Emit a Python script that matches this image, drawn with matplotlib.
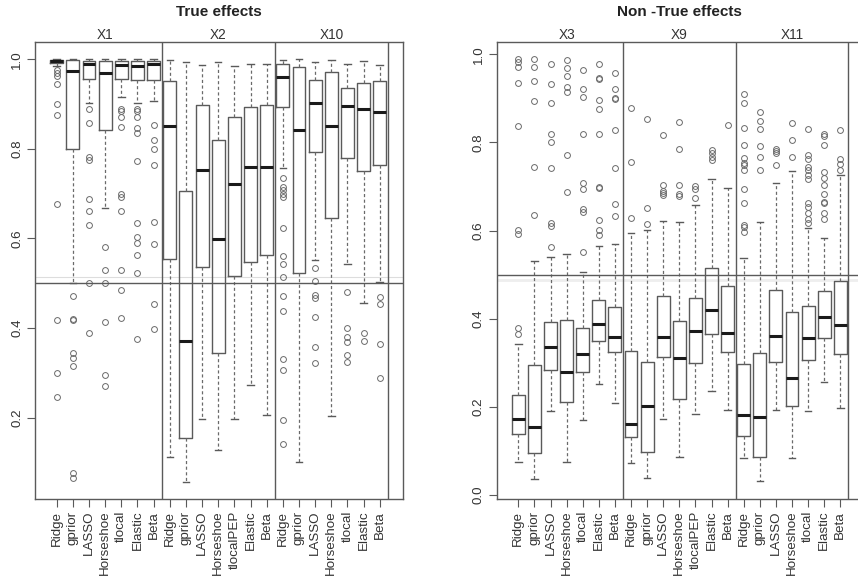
import matplotlib
matplotlib.use("Agg")
import matplotlib.pyplot as plt
import matplotlib.transforms as mtransforms

plt.rcParams['font.family'] = ['Liberation Sans', 'DejaVu Sans']

# ---------------- data: (whisker low, q1, median, q3, whisker high) ----------------
methods_a = ["Ridge", "gprior", "LASSO", "Horseshoe", "tlocal", "Elastic", "Beta"]
methods_b = ["Ridge", "gprior", "LASSO", "Horseshoe", "tlocalPEP", "Elastic", "Beta"]

# True effects
x1_stats = [(0.984, 0.992, 0.997, 0.999, 1.0),
            (0.500, 0.800, 0.974, 0.999, 1.0),
            (0.903, 0.955, 0.990, 0.997, 1.0),
            (0.667, 0.842, 0.970, 0.997, 1.0),
            (0.915, 0.955, 0.987, 0.997, 1.0),
            (0.903, 0.954, 0.984, 0.997, 1.0),
            (0.907, 0.954, 0.989, 0.997, 1.0)]
x1_out = [[0.976, 0.969, 0.962, 0.946, 0.90, 0.876, 0.677, 0.418, 0.30, 0.247],
          [0.472, 0.420, 0.418, 0.344, 0.333, 0.315, 0.077, 0.066],
          [0.89, 0.857, 0.783, 0.775, 0.688, 0.662, 0.629, 0.50, 0.39],
          [0.58, 0.53, 0.50, 0.413, 0.295, 0.27],
          [0.89, 0.885, 0.872, 0.85, 0.70, 0.693, 0.662, 0.53, 0.484, 0.423],
          [0.89, 0.885, 0.872, 0.846, 0.835, 0.772, 0.635, 0.604, 0.591, 0.562, 0.522, 0.375],
          [0.853, 0.82, 0.80, 0.764, 0.636, 0.587, 0.454, 0.397]]

x2_stats = [(0.113, 0.554, 0.851, 0.951, 0.999),
            (0.057, 0.155, 0.371, 0.705, 0.995),
            (0.196, 0.536, 0.753, 0.897, 0.987),
            (0.128, 0.344, 0.599, 0.820, 0.993),
            (0.197, 0.517, 0.722, 0.872, 0.985),
            (0.273, 0.548, 0.760, 0.894, 0.990),
            (0.205, 0.562, 0.759, 0.897, 0.990)]
x2_out = [[], [], [], [], [], [], []]

x10_stats = [(0.758, 0.894, 0.960, 0.990, 0.999),
             (0.102, 0.522, 0.842, 0.982, 1.0),
             (0.552, 0.792, 0.903, 0.954, 0.993),
             (0.204, 0.645, 0.851, 0.972, 0.999),
             (0.542, 0.779, 0.896, 0.937, 0.990),
             (0.457, 0.751, 0.888, 0.948, 0.997),
             (0.502, 0.763, 0.883, 0.951, 0.987)]
x10_out = [[0.734, 0.716, 0.708, 0.70, 0.693, 0.624, 0.561, 0.543, 0.515, 0.472, 0.439, 0.33, 0.306, 0.195, 0.141],
           [],
           [0.533, 0.505, 0.474, 0.466, 0.425, 0.358, 0.321],
           [],
           [0.48, 0.40, 0.379, 0.368, 0.34, 0.325],
           [0.39, 0.37],
           [0.47, 0.454, 0.364, 0.288]]

# Non-true effects
x3_stats = [(0.076, 0.138, 0.172, 0.228, 0.342),
            (0.036, 0.096, 0.155, 0.295, 0.531),
            (0.191, 0.283, 0.336, 0.392, 0.539),
            (0.076, 0.212, 0.278, 0.397, 0.546),
            (0.170, 0.278, 0.319, 0.379, 0.505),
            (0.253, 0.349, 0.389, 0.442, 0.565),
            (0.208, 0.324, 0.359, 0.427, 0.569)]
x3_out = [[0.988, 0.983, 0.971, 0.935, 0.837, 0.601, 0.593, 0.379, 0.365],
          [0.99, 0.97, 0.94, 0.893, 0.745, 0.636],
          [0.977, 0.933, 0.89, 0.82, 0.801, 0.742, 0.618, 0.61, 0.562],
          [0.986, 0.969, 0.95, 0.926, 0.915, 0.772, 0.688],
          [0.964, 0.92, 0.902, 0.82, 0.708, 0.695, 0.648, 0.642, 0.552],
          [0.977, 0.946, 0.943, 0.896, 0.875, 0.82, 0.699, 0.697, 0.624, 0.602, 0.59],
          [0.958, 0.922, 0.90, 0.898, 0.829, 0.742, 0.66, 0.633]]

x9_stats = [(0.072, 0.131, 0.160, 0.327, 0.595),
            (0.038, 0.098, 0.203, 0.301, 0.602),
            (0.172, 0.314, 0.359, 0.452, 0.621),
            (0.087, 0.218, 0.310, 0.395, 0.620),
            (0.184, 0.299, 0.372, 0.448, 0.659),
            (0.237, 0.365, 0.419, 0.514, 0.718),
            (0.193, 0.325, 0.368, 0.475, 0.697)]
x9_out = [[0.877, 0.756, 0.629],
          [0.854, 0.65, 0.615],
          [0.816, 0.704, 0.69, 0.686, 0.68],
          [0.847, 0.784, 0.703, 0.684, 0.678],
          [0.701, 0.695, 0.674],
          [0.782, 0.775, 0.767, 0.76],
          [0.839]]

x11_stats = [(0.085, 0.135, 0.181, 0.297, 0.537),
             (0.032, 0.087, 0.177, 0.323, 0.620),
             (0.194, 0.301, 0.361, 0.465, 0.708),
             (0.085, 0.202, 0.265, 0.416, 0.735),
             (0.191, 0.306, 0.357, 0.429, 0.606),
             (0.257, 0.357, 0.404, 0.463, 0.582),
             (0.198, 0.320, 0.385, 0.486, 0.726)]
x11_out = [[0.909, 0.889, 0.833, 0.795, 0.765, 0.754, 0.748, 0.737, 0.695, 0.663, 0.612, 0.608, 0.596],
           [0.869, 0.848, 0.831, 0.791, 0.767, 0.737],
           [0.786, 0.78, 0.775, 0.748],
           [0.843, 0.805, 0.766],
           [0.831, 0.771, 0.763, 0.745, 0.737, 0.726, 0.716, 0.662, 0.654, 0.639, 0.627, 0.617],
           [0.818, 0.814, 0.794, 0.733, 0.72, 0.703, 0.683, 0.664, 0.662, 0.639, 0.626],
           [0.829, 0.763, 0.752, 0.738]]

panel_titles = ["True effects", "Non -True effects"]
left_groups = ["X1", "X2", "X10"]
right_groups = ["X3", "X9", "X11"]
left_ticks = [0.2, 0.4, 0.6, 0.8, 1.0]
right_ticks = [0.0, 0.2, 0.4, 0.6, 0.8, 1.0]

# ---------------- drawing ----------------
W, H = 858, 582
fig = plt.figure(figsize=(W / 100, H / 100), dpi=100)


def rect(x0, y0, x1, y1):
    return [x0 / W, 1 - y1 / H, (x1 - x0) / W, (y1 - y0) / H]


ax1 = fig.add_axes(rect(35, 42.3, 402.5, 499))
ax2 = fig.add_axes(rect(496.7, 42.3, 863, 499))

EDGE = '#5a5a5a'
TXT = '#333333'


def make_stats(stats, outs, labels):
    res = []
    for (lo, q1, med, q3, hi), fl, lab in zip(stats, outs, labels):
        res.append(dict(whislo=lo, q1=q1, med=med, q3=q3, whishi=hi, fliers=fl, label=lab))
    return res


def draw_panel(ax, groups, names, ylim, yticks, title, title_x):
    all_stats = []
    labels = []
    for (st, out), meth in zip(groups, [methods_a, methods_b, methods_a]):
        all_stats += make_stats(st, out, meth)
        labels += meth
    pos = list(range(1, len(all_stats) + 1))
    ax.bxp(all_stats, positions=pos, widths=0.8, capwidths=0.4, showfliers=True,
           boxprops=dict(color=EDGE, lw=1.0),
           whiskerprops=dict(color='#6a6a6a', lw=0.9, ls=(0, (2.5, 2.0))),
           capprops=dict(color=EDGE, lw=1.0),
           medianprops=dict(color='#1a1a1a', lw=2.2, solid_capstyle='butt'),
           flierprops=dict(marker='o', mfc='none', mec='#6a6a6a', ms=4.2, mew=0.7, ls='none'))
    ax.set_xlim(-0.344, 22.41)
    ax.set_ylim(*ylim)
    for sep in [7.5, 14.5, 21.5]:
        ax.axvline(sep, color=EDGE, lw=1.0, zorder=5)
    ax.axhline(0.5, color=EDGE, lw=1.0, zorder=5)
    ax.set_xticks(pos)
    ax.set_xticklabels(labels, rotation=90, fontsize=9.6, color=TXT)
    ax.set_yticks(yticks)
    ax.set_yticklabels([f"{t:.1f}" for t in yticks], rotation=90, va='center',
                       fontsize=9.6, color=TXT)
    ax.tick_params(axis='both', direction='out', length=5.5, width=0.8, color=EDGE, pad=3)
    for s in ax.spines.values():
        s.set_color(EDGE)
        s.set_linewidth(1.0)
    trans = mtransforms.offset_copy(ax.get_xaxis_transform(), fig=fig, x=0, y=3, units='dots')
    for i, nm in enumerate(names):
        ax.text(4 + 7 * i, 1.0, nm, transform=trans, ha='center', va='baseline',
                fontsize=9.8, color=TXT)
    fig.text(title_x / W, 1 - 12 / H, title, ha='center', va='center',
             fontsize=11, fontweight='bold', color='#222222')


draw_panel(ax1, [(x1_stats, x1_out), (x2_stats, x2_out), (x10_stats, x10_out)],
           left_groups, (0.0183, 1.038), left_ticks, panel_titles[0], 218.5)
ax1.axhline(0.515, color='#dddddd', lw=0.8, zorder=0.5)

draw_panel(ax2, [(x3_stats, x3_out), (x9_stats, x9_out), (x11_stats, x11_out)],
           right_groups, (-0.009, 1.027), right_ticks, panel_titles[1], 679)
ax2.axhline(0.488, color='#eeeeee', lw=2.0, zorder=0.5)

fig.savefig("out.png", dpi=100)
